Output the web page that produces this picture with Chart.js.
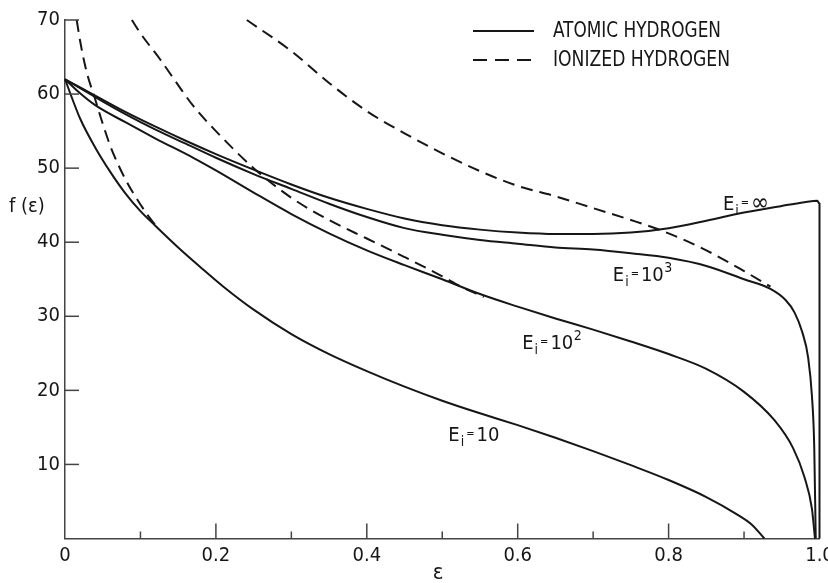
<!DOCTYPE html>
<html>
<head>
<meta charset="utf-8">
<title>f(ε) for atomic and ionized hydrogen</title>
<script src="https://cdn.jsdelivr.net/npm/chart.js@4.4.0/dist/chart.umd.min.js"></script>
<style>
    html, body { margin: 0; padding: 0; background: #ffffff; }
    #wrap { width: 828px; height: 583px; }
</style>
</head>
<body>
<div id="wrap"><canvas id="spectrumChart" width="828" height="583"></canvas></div>
<script>
// Atomic hydrogen, E_i = infinity (ends with a vertical drop at eps = 1)
const epsInf = [0, 0.04, 0.08, 0.12, 0.16, 0.20, 0.25, 0.30, 0.35, 0.40, 0.45, 0.50, 0.55, 0.60, 0.65, 0.70, 0.75, 0.80, 0.85, 0.90, 0.95, 0.98, 0.997, 1.0, 1.0];
const fInf   = [62, 59.8, 57.6, 55.6, 53.7, 51.9, 49.8, 47.8, 46.0, 44.5, 43.2, 42.3, 41.7, 41.3, 41.1, 41.1, 41.3, 41.9, 42.9, 44.0, 44.9, 45.4, 45.6, 45.2, 0];

// Atomic hydrogen, E_i = 10^3
const eps1e3 = [0, 0.04, 0.08, 0.12, 0.16, 0.20, 0.25, 0.30, 0.35, 0.40, 0.45, 0.50, 0.55, 0.60, 0.65, 0.70, 0.75, 0.80, 0.85, 0.90, 0.935, 0.955, 0.967, 0.977, 0.985, 0.990, 0.993, 0.995];
const f1e3   = [62, 59.6, 57.3, 55.2, 53.3, 51.4, 49.2, 47.2, 45.2, 43.4, 41.9, 41.0, 40.3, 39.8, 39.3, 39.0, 38.5, 37.9, 36.8, 35.0, 33.7, 32.2, 30.5, 27.9, 24.4, 19.2, 12.5, 0];

// Atomic hydrogen, E_i = 10^2
const eps1e2 = [0, 0.02, 0.04, 0.08, 0.12, 0.17, 0.20, 0.25, 0.30, 0.35, 0.40, 0.45, 0.50, 0.55, 0.60, 0.65, 0.70, 0.75, 0.80, 0.85, 0.90, 0.94, 0.965, 0.98, 0.99, 0.994];
const f1e2   = [62, 60.1, 58.5, 56.2, 54.0, 51.4, 49.7, 46.7, 43.8, 41.2, 38.9, 36.9, 35.0, 33.0, 31.3, 29.7, 28.2, 26.6, 24.9, 22.9, 19.8, 16.0, 12.2, 8.3, 4.0, 0];

// Atomic hydrogen, E_i = 10
const eps10 = [0, 0.02, 0.04, 0.06, 0.08, 0.10, 0.12, 0.15, 0.18, 0.21, 0.25, 0.30, 0.35, 0.40, 0.45, 0.50, 0.55, 0.60, 0.65, 0.70, 0.75, 0.80, 0.85, 0.89, 0.91, 0.927];
const f10   = [62, 56.7, 52.8, 49.5, 46.6, 44.2, 42.2, 39.3, 36.6, 34.0, 30.9, 27.6, 24.9, 22.6, 20.5, 18.6, 16.9, 15.3, 13.6, 11.8, 9.9, 7.9, 5.6, 3.3, 1.9, 0];

// Ionized hydrogen (dashed), three branches
const epsIonA = [0.0155, 0.02, 0.025, 0.03, 0.04, 0.05, 0.06, 0.07, 0.08, 0.09, 0.10, 0.11, 0.12];
const fIonA   = [70, 67.2, 64.6, 62.5, 59.3, 56.0, 53.0, 50.6, 48.5, 46.7, 45.1, 43.6, 42.3];

const epsIonB = [0.0886, 0.10, 0.126, 0.15, 0.17, 0.20, 0.25, 0.30, 0.35, 0.40, 0.45, 0.50, 0.525, 0.555];
const fIonB   = [70, 68.2, 64.7, 61.2, 58.4, 55.0, 50.0, 46.0, 43.0, 40.5, 38.0, 35.4, 34.0, 32.6];

const epsIonC = [0.241, 0.30, 0.35, 0.40, 0.45, 0.50, 0.55, 0.60, 0.65, 0.70, 0.75, 0.80, 0.85, 0.90, 0.935];
const fIonC   = [70, 65.8, 61.5, 57.7, 54.7, 52.0, 49.6, 47.6, 46.2, 44.6, 43.0, 41.2, 38.9, 36.1, 34.0];

// Axis ticks
const xTicks = [0, 0.1, 0.2, 0.3, 0.4, 0.5, 0.6, 0.7, 0.8, 0.9, 1.0];
const xTickLabels = ['0', '', '0.2', '', '0.4', '', '0.6', '', '0.8', '', '1.0'];
const yTicks = [0, 10, 20, 30, 40, 50, 60, 70];

// Legend entries and curve annotations
const legendNames = ['ATOMIC HYDROGEN', 'IONIZED HYDROGEN'];
const curveNames = ['∞', '10', '10', '10'];
const curvePowers = ['', '3', '2', ''];
const curveLabelEps = [0.872, 0.726, 0.606, 0.508];
const curveLabelF = [44.4, 34.7, 25.6, 13.1];

const FONT = "'DejaVu Sans Condensed', 'DejaVu Sans', sans-serif";
const INK = '#161616';

function toPoints(xs, ys) {
    return xs.map((x, i) => ({ x: x, y: ys[i] }));
}

function curve(label, xs, ys, dashed) {
    return {
        label: label,
        data: toPoints(xs, ys),
        borderColor: INK,
        borderWidth: 2,
        borderDash: dashed ? [12, 7] : [],
        pointRadius: 0,
        fill: false,
        cubicInterpolationMode: 'monotone',
        clip: false
    };
}

// Draws inside ticks, legend, axis titles and the E_i labels
const annotations = {
    id: 'annotations',
    afterDraw(chart) {
        const ctx = chart.ctx;
        const xs = chart.scales.x;
        const ys = chart.scales.y;
        const area = chart.chartArea;
        ctx.save();

        // inside ticks
        ctx.strokeStyle = '#444';
        ctx.lineWidth = 1.5;
        xTicks.forEach((v, i) => {
            if (v === 0 || v === 1) return;
            const px = xs.getPixelForValue(v);
            const len = xTickLabels[i] ? 15 : 7;
            ctx.beginPath();
            ctx.moveTo(px, area.bottom);
            ctx.lineTo(px, area.bottom - len);
            ctx.stroke();
        });
        yTicks.forEach(v => {
            if (v === 0) return;
            const py = ys.getPixelForValue(v);
            ctx.beginPath();
            ctx.moveTo(area.left, py);
            ctx.lineTo(area.left + 14, py);
            ctx.stroke();
        });

        // legend
        ctx.strokeStyle = INK;
        ctx.lineWidth = 2;
        ctx.fillStyle = INK;
        ctx.font = '21px ' + FONT;
        ctx.textBaseline = 'middle';
        ctx.textAlign = 'left';
        const legendWidths = [168, 177];
        legendNames.forEach((name, i) => {
            const ly = 31 + i * 29;
            ctx.setLineDash(i === 0 ? [] : [14, 8]);
            ctx.beginPath();
            ctx.moveTo(473, ly);
            ctx.lineTo(534, ly);
            ctx.stroke();
            ctx.fillText(name, 553, ly + 1, legendWidths[i]);
        });
        ctx.setLineDash([]);

        // axis titles
        ctx.font = '20px ' + FONT;
        ctx.fillText('f (ε)', 9, 207);
        ctx.textAlign = 'center';
        ctx.font = '22px ' + FONT;
        ctx.fillText('ε', 438, 573);
        ctx.textAlign = 'left';

        // E_i labels
        ctx.textBaseline = 'alphabetic';
        curveNames.forEach((name, i) => {
            let x = xs.getPixelForValue(curveLabelEps[i]);
            const y = ys.getPixelForValue(curveLabelF[i]);
            ctx.font = '20px ' + FONT;
            ctx.fillText('E', x, y);
            x += ctx.measureText('E').width + 1;
            ctx.font = '14px ' + FONT;
            ctx.fillText('i', x, y + 5);
            x += ctx.measureText('i').width + 2;
            ctx.font = '11px ' + FONT;
            ctx.fillText('=', x, y - 4);
            x += ctx.measureText('=').width + 2;
            ctx.font = (name === '∞' ? '24px ' : '20px ') + FONT;
            ctx.fillText(name, x, y);
            x += ctx.measureText(name).width + 0.5;
            if (curvePowers[i]) {
                ctx.font = '14px ' + FONT;
                ctx.fillText(curvePowers[i], x, y - 9);
            }
        });

        ctx.restore();
    }
};

const ctxEl = document.getElementById('spectrumChart');

new Chart(ctxEl, {
    type: 'line',
    data: {
        datasets: [
            curve('E_i = inf', epsInf, fInf, false),
            curve('E_i = 10^3', eps1e3, f1e3, false),
            curve('E_i = 10^2', eps1e2, f1e2, false),
            curve('E_i = 10', eps10, f10, false),
            curve('ionized a', epsIonA, fIonA, true),
            curve('ionized b', epsIonB, fIonB, true),
            curve('ionized c', epsIonC, fIonC, true)
        ]
    },
    options: {
        responsive: false,
        animation: false,
        devicePixelRatio: 1,
        layout: {
            padding: { top: 20, right: 8.5, left: 0, bottom: 0 }
        },
        plugins: {
            legend: { display: false },
            tooltip: { enabled: false }
        },
        scales: {
            x: {
                type: 'linear',
                min: 0,
                max: 1,
                afterBuildTicks: (scale) => {
                    scale.ticks = xTicks.map(v => ({ value: v }));
                },
                afterFit: (scale) => {
                    scale.height = 44.5;
                    scale.paddingLeft = 0;
                    scale.paddingRight = 0;
                },
                ticks: {
                    autoSkip: false,
                    maxRotation: 0,
                    padding: 5,
                    color: INK,
                    font: { family: FONT, size: 20 },
                    callback: (value, index) => xTickLabels[index]
                },
                grid: { drawOnChartArea: false, drawTicks: false },
                border: { display: true, color: '#444', width: 1.5 }
            },
            y: {
                min: 0,
                max: 70,
                afterBuildTicks: (scale) => {
                    scale.ticks = yTicks.map(v => ({ value: v }));
                },
                afterFit: (scale) => {
                    scale.width = 65;
                    scale.paddingTop = 0;
                    scale.paddingBottom = 0;
                },
                ticks: {
                    padding: 5,
                    color: INK,
                    font: { family: FONT, size: 20 },
                    callback: (value) => value === 0 ? '' : String(value)
                },
                grid: { drawOnChartArea: false, drawTicks: false },
                border: { display: true, color: '#444', width: 1.5 }
            }
        }
    },
    plugins: [annotations]
});
</script>
</body>
</html>
